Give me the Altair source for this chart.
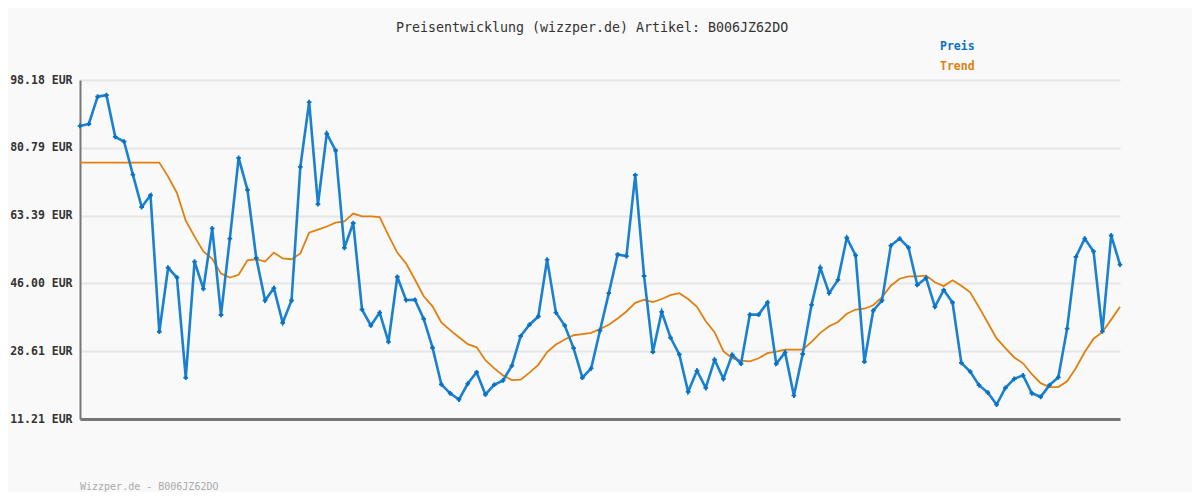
import altair as alt
import pandas as pd

price = [86.4, 86.9, 93.9, 94.3, 83.6, 82.4, 73.9, 65.6, 68.6, 33.6,
         50.0, 47.5, 21.8, 51.6, 44.6, 60.1, 37.9, 57.5, 78.2, 70.0,
         52.5, 41.6, 44.8, 35.9, 41.6, 75.9, 92.5, 66.3, 84.4, 80.1,
         55.1, 61.5, 39.3, 35.2, 38.5, 31.0, 47.7, 41.7, 41.8, 36.9,
         29.5, 20.1, 17.8, 16.2, 20.3, 23.2, 17.5, 20.0, 21.1, 24.9,
         32.5, 35.4, 37.5, 52.1, 38.5, 35.2, 29.4, 21.8, 24.2, 33.9,
         43.5, 53.4, 53.0, 73.8, 47.9, 28.4, 38.7, 32.1, 27.8, 18.2,
         23.6, 19.2, 26.4, 21.5, 27.7, 25.4, 38.0, 38.0, 41.1, 25.4,
         28.3, 17.2, 27.9, 40.5, 50.0, 43.5, 46.9, 57.7, 53.2, 25.9,
         39.0, 41.6, 55.7, 57.5, 55.2, 45.6, 47.4, 40.0, 44.3, 41.1,
         25.6, 23.4, 19.9, 18.0, 14.9, 19.2, 21.5, 22.4, 17.8, 16.9,
         19.9, 21.9, 34.4, 52.8, 57.5, 54.2, 33.7, 58.3, 50.8]

trend = [77.0, 77.0, 77.0, 77.0, 77.0, 77.0, 77.0, 77.0, 77.0, 77.0,
         73.4, 69.2, 62.1, 58.0, 54.2, 52.3, 48.5, 47.5, 48.2, 51.9,
         52.2, 51.6, 53.9, 52.4, 52.2, 53.7, 59.0, 59.8, 60.6, 61.6,
         61.9, 63.9, 63.2, 63.2, 63.0, 58.3, 53.9, 51.1, 47.0, 42.7,
         40.1, 36.0, 34.0, 32.2, 30.4, 29.6, 26.3, 24.2, 22.4, 21.2,
         21.3, 23.1, 25.1, 28.4, 30.3, 31.6, 32.7, 33.0, 33.3, 34.3,
         35.4, 37.0, 38.8, 41.0, 41.8, 41.2, 42.0, 43.0, 43.5, 42.0,
         40.0, 36.3, 33.5, 28.6, 26.8, 26.2, 26.0, 26.8, 28.1, 28.5,
         29.0, 29.0, 29.0, 31.0, 33.3, 35.0, 36.1, 38.2, 39.3, 39.5,
         40.4, 42.5, 45.4, 47.2, 47.8, 47.8, 48.0, 46.3, 45.3, 46.8,
         45.4, 43.7, 39.9, 35.9, 31.9, 29.4, 27.0, 25.5, 22.7, 20.4,
         19.4, 19.4, 20.9, 24.3, 28.4, 31.8, 33.5, 36.7, 40.0]

y_ticks = [11.21, 28.61, 46.00, 63.39, 80.79, 98.18]
title_text = "Preisentwicklung (wizzper.de) Artikel: B006JZ62DO"
footer_text = "Wizzper.de - B006JZ62DO"
legend_labels = ["Preis", "Trend"]

BLUE = "#1a80d0"
BLUE_DARK = "#0a70c0"
ORANGE = "#e0800f"
MONO = "DejaVu Sans Mono"

n = len(price)
df = pd.DataFrame({"i": list(range(n)), "price": price, "trend": trend[:n]})

xs = alt.X("i:Q", scale=alt.Scale(domain=[0, n - 1], nice=False, zero=False),
           axis=alt.Axis(labels=False, ticks=False, grid=False, title=None,
                         domainColor="#777777", domainWidth=3))
ys_axis = alt.Axis(values=y_ticks, labelExpr="format(datum.value, '.2f') + ' EUR'",
                   labelFont=MONO, labelFontWeight="bold", labelFontSize=11.5,
                   labelColor="#333333", ticks=False, domainColor="#777777",
                   domainWidth=2, gridColor="#e6e6e6", gridWidth=2, labelPadding=8,
                   title=None)
yscale = alt.Scale(domain=[11.21, 98.18], nice=False, zero=False)

base = alt.Chart(df)
trend_line = base.mark_line(color=ORANGE, strokeWidth=1.8).encode(
    x=xs, y=alt.Y("trend:Q", scale=yscale, axis=ys_axis))
price_line = base.mark_line(color=BLUE, strokeWidth=2.6).encode(
    x=xs, y=alt.Y("price:Q", scale=yscale))
price_pts = base.mark_point(shape="cross", filled=True, size=22, color=BLUE_DARK, opacity=1).encode(
    x=xs, y=alt.Y("price:Q", scale=yscale))

title = alt.Chart(pd.DataFrame({"t": [title_text]})).mark_text(
    font=MONO, fontSize=13.3, color="#333333", align="center", baseline="middle"
).encode(text="t:N", x=alt.value(512), y=alt.value(-52))

legend_df = pd.DataFrame({"t": legend_labels, "c": [BLUE_DARK, ORANGE], "yy": [-33, -13]})
legend = alt.Chart(legend_df).mark_text(
    font=MONO, fontSize=11.5, fontWeight="bold", align="left", baseline="middle"
).encode(text="t:N", x=alt.value(860), y=alt.Y("yy:Q", scale=None),
         color=alt.Color("c:N", scale=None))

footer = alt.Chart(pd.DataFrame({"t": [footer_text]})).mark_text(
    font=MONO, fontSize=10, color="#aaaaaa", align="left", baseline="middle"
).encode(text="t:N", x=alt.value(0), y=alt.value(407))

chart = alt.layer(trend_line, price_line, price_pts, title, legend, footer).properties(
    width=1040, height=339, background="#f9f9f9",
    padding={"left": 72, "top": 72, "right": 72, "bottom": 73},
    autosize=alt.AutoSizeParams(type="none"),
).configure_view(stroke=None)

chart.save("out.html", embed_options={"renderer": "svg", "actions": False})
